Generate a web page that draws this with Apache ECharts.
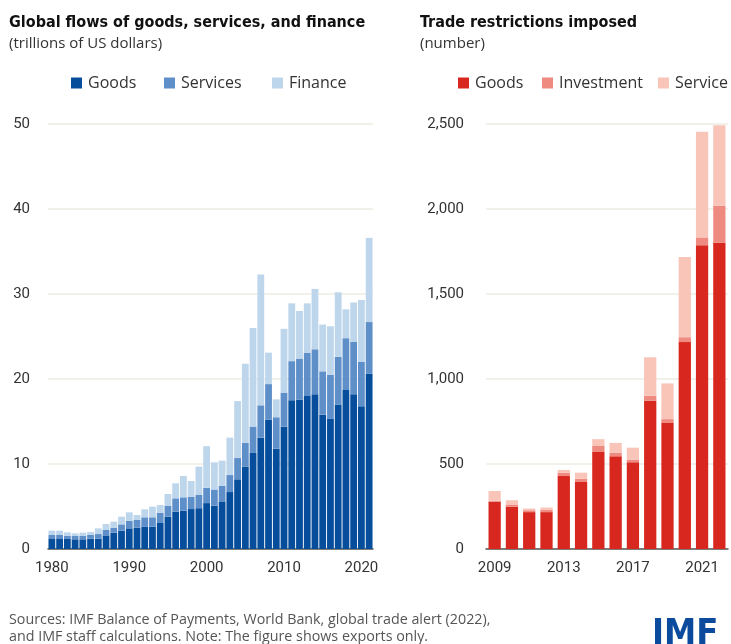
<!DOCTYPE html>
<html><head><meta charset="utf-8">
<script src="https://cdn.jsdelivr.net/npm/echarts@6/dist/echarts.min.js"></script>
<style>html,body{margin:0;padding:0;background:#fff}#c{width:731px;height:644px}</style>
</head><body><div id="c"></div>
<script>
var yearsL = ['1980','1981','1982','1983','1984','1985','1986','1987','1988','1989','1990','1991','1992','1993','1994','1995','1996','1997','1998','1999','2000','2001','2002','2003','2004','2005','2006','2007','2008','2009','2010','2011','2012','2013','2014','2015','2016','2017','2018','2019','2020','2021'];
var goodsFlow = [1.25,1.25,1.18,1.14,1.14,1.22,1.22,1.6,1.92,2.16,2.43,2.5,2.6,2.63,3.06,3.8,4.4,4.5,4.7,4.8,5.4,5.1,5.6,6.7,8.2,9.7,11.3,13.1,15.2,11.8,14.4,17.5,17.6,18.0,18.2,15.8,15.3,17.0,18.7,18.2,16.8,20.6];
var servicesFlow = [0.4,0.4,0.39,0.39,0.43,0.43,0.54,0.64,0.59,0.74,0.9,0.91,1.13,1.1,1.21,1.26,1.56,1.58,1.46,1.55,1.8,1.9,1.85,2.0,2.5,2.8,3.1,3.8,4.2,3.7,4.0,4.6,4.8,5.1,5.3,5.1,5.2,5.6,6.1,6.2,5.2,6.1];
var financeFlow = [0.51,0.51,0.39,0.31,0.35,0.35,0.67,0.7,0.71,0.9,0.98,0.59,0.94,1.25,0.91,1.41,1.77,2.51,1.84,3.34,4.9,3.2,2.95,4.4,6.7,9.3,11.6,15.4,3.7,2.1,7.5,6.8,5.6,5.8,7.1,5.5,5.7,7.6,3.4,4.6,7.3,9.9];

var yearsR = ['2009','2010','2011','2012','2013','2014','2015','2016','2017','2018','2019','2020','2021','2022'];
var goodsRestr = [278,248,217,217,429,394,573,545,510,872,744,1217,1787,1801];
var investRestr = [5,14,11,15,20,19,33,22,16,30,20,29,46,219];
var serviceRestr = [58,25,10,12,16,36,40,57,70,226,210,472,622,472];

var BOLD = '"DejaVu Sans Condensed", "DejaVu Sans", sans-serif';
var REG = '"Open Sans", Roboto, sans-serif';
var AX = 'Roboto, sans-serif';
var chart = echarts.init(document.getElementById('c'), null, {renderer:'canvas'});
var axisLbl = {color:'#333', fontSize:15, fontFamily:AX};
function leg(name, left, fmt){
  return {data:[name], left:left, top:75, itemWidth:11, itemHeight:11, icon:'rect', padding:0,
    formatter: fmt ? function(n){return n.replace('r:','');} : undefined,
    textStyle:{fontSize:16, color:'#333', fontFamily:REG, padding:[0,0,0,1]}};
}
chart.setOption({
  backgroundColor:'#fff',
  animation:false,
  textStyle:{fontFamily:REG},
  title:[
    {text:'Global flows of goods, services, and finance', subtext:'(trillions of US dollars)', left:9, top:15, padding:0, itemGap:5,
     textStyle:{fontSize:16, fontWeight:'bold', color:'#111', fontFamily:BOLD},
     subtextStyle:{fontSize:15, color:'#333', fontFamily:REG}},
    {text:'Trade restrictions imposed', subtext:'(number)', left:420, top:15, padding:0, itemGap:5,
     textStyle:{fontSize:16, fontWeight:'bold', color:'#111', fontFamily:BOLD},
     subtextStyle:{fontSize:15, color:'#333', fontFamily:REG}}
  ],
  legend:[
    leg('Goods', 71), leg('Services', 164), leg('Finance', 272),
    leg('r:Goods', 458, true), leg('r:Investment', 542, true), leg('r:Service', 658, true)
  ],
  grid:[
    {left:48, right:358, top:124, bottom:95},
    {left:486, right:3, top:124, bottom:95}
  ],
  xAxis:[
    {type:'category', gridIndex:0, data:yearsL, axisTick:{show:false},
     axisLine:{lineStyle:{color:'#555', width:1.5}},
     axisLabel:Object.assign({interval:9, margin:12}, axisLbl)},
    {type:'category', gridIndex:1, data:yearsR, axisTick:{show:false},
     axisLine:{lineStyle:{color:'#555', width:1.5}},
     axisLabel:Object.assign({interval:3, margin:12}, axisLbl)}
  ],
  yAxis:[
    {type:'value', gridIndex:0, min:0, max:50, interval:10,
     axisLabel:Object.assign({margin:18}, axisLbl),
     splitLine:{lineStyle:{color:'#eeede2', width:1.5}}},
    {type:'value', gridIndex:1, min:0, max:2500, interval:500,
     axisLabel:Object.assign({margin:22, formatter:function(v){return v.toLocaleString('en-US');}}, axisLbl),
     splitLine:{lineStyle:{color:'#eeede2', width:1.5}}}
  ],
  series:[
    {name:'Goods', type:'bar', stack:'L', xAxisIndex:0, yAxisIndex:0, data:goodsFlow, barCategoryGap:'12%', itemStyle:{color:'#064d9b'}},
    {name:'Services', type:'bar', stack:'L', xAxisIndex:0, yAxisIndex:0, data:servicesFlow, itemStyle:{color:'#5f8fc9'}},
    {name:'Finance', type:'bar', stack:'L', xAxisIndex:0, yAxisIndex:0, data:financeFlow, itemStyle:{color:'#bdd6ec'}},
    {name:'r:Goods', type:'bar', stack:'R', xAxisIndex:1, yAxisIndex:1, data:goodsRestr, barCategoryGap:'29%', itemStyle:{color:'#d8271e'}},
    {name:'r:Investment', type:'bar', stack:'R', xAxisIndex:1, yAxisIndex:1, data:investRestr, itemStyle:{color:'#ee8a80'}},
    {name:'r:Service', type:'bar', stack:'R', xAxisIndex:1, yAxisIndex:1, data:serviceRestr, itemStyle:{color:'#f9c5b9'}}
  ],
  graphic:[
    {type:'text', left:9, top:611, style:{text:'Sources: IMF Balance of Payments, World Bank, global trade alert (2022),\nand IMF staff calculations. Note: The figure shows exports only.', fontSize:14.3, lineHeight:17, fill:'#555', fontFamily:REG}},
    {type:'text', left:652, top:617, style:{text:'IMF', fontSize:36, fontWeight:'bold', fill:'#0b4a9c', fontFamily:BOLD}}
  ]
});
</script></body></html>
